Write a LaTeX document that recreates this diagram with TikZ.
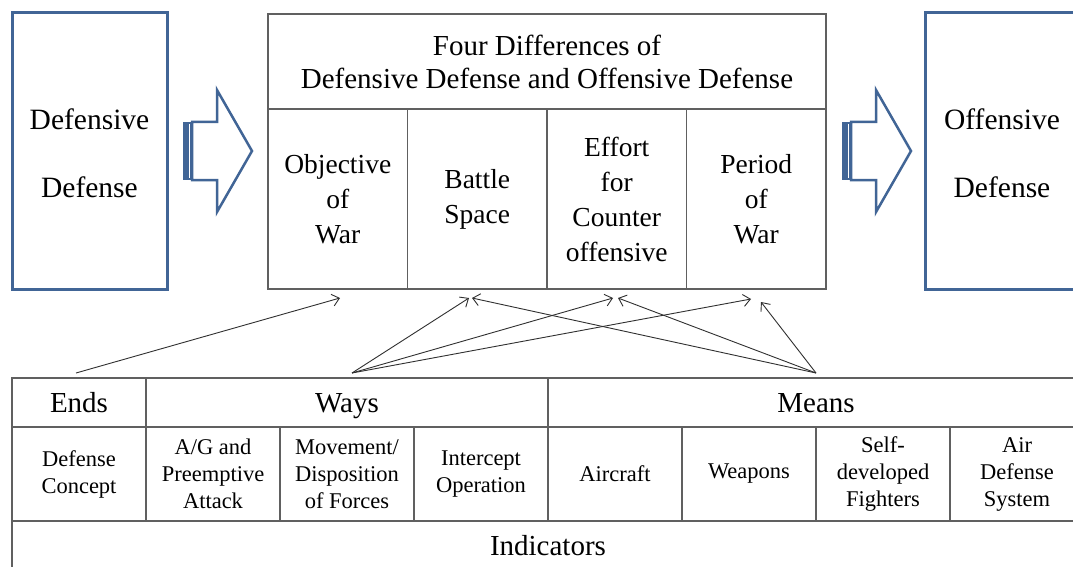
\documentclass[tikz,border=0pt]{standalone}
\usepackage{fontspec}
\setmainfont{Liberation Serif}
\usetikzlibrary{arrows.meta}
\definecolor{boxblue}{HTML}{416596}
\definecolor{linegray}{HTML}{606060}
\definecolor{arrowgray}{HTML}{303030}

\tikzset{
	sidebox/.style={draw=boxblue, line width=3pt, inner sep=0pt},
	sidetext/.style={align=center, font=\fontsize{29.5}{68}\selectfont},
	cell/.style={draw=linegray, line width=1.3pt, inner sep=0pt, align=center},
	headtext/.style={font=\fontsize{29}{33}\selectfont},
	bigtext/.style={font=\fontsize{27.5}{35}\selectfont},
	rowtext/.style={font=\fontsize{29}{33}\selectfont, text height=22pt, text depth=3pt},
	smalltext/.style={font=\fontsize{22.5}{27}\selectfont},
	link/.style={draw=arrowgray, line width=0.9pt, -{Straight Barb[length=7pt,width=12pt,line width=0.9pt]}},
	blockarrow/.style={draw=boxblue, line width=2.5pt, fill=white, line join=miter}
}

\begin{document}
\begin{tikzpicture}[x=1pt,y=-1pt]
	\useasboundingbox[fill=white] (0,0) rectangle (1073,567);
	%
	%side boxes
	\draw[sidebox] (12,13) rectangle (167,289);
	\node[sidetext] (defdef) at (89.5,153) {Defensive\\Defense};
	\draw[sidebox] (925,13) rectangle (1090,289);
	\node[sidetext] (offdef) at (1002,153) {Offensive\\Defense};
	%
	%block arrows
	\foreach \dx in {0,659}{
		\begin{scope}[shift={(\dx,0)}]
			\fill[boxblue] (183,122) rectangle (192,180);
			\draw[white, line width=0.8pt] (189.5,124) -- (189.5,178);
			\draw[blockarrow] (192,122) -- (217,122) -- (217,90) -- (252,151)
				-- (217,212) -- (217,180) -- (192,180) -- cycle;
		\end{scope}
	}
	%
	%middle table
	\node[cell, headtext, minimum width=558pt, minimum height=95pt] (four) at (547,61.5)
		{Four Differences of\\Defensive Defense and Offensive Defense};
	\node[cell, bigtext, minimum width=139.5pt, minimum height=180pt] (obj)    at (337.75,199) {Objective\\of\\War};
	\node[cell, bigtext, minimum width=139.5pt, minimum height=180pt] (battle) at (477.25,199) {Battle\\Space};
	\node[cell, bigtext, minimum width=139.5pt, minimum height=180pt] (effort) at (616.75,199) {Effort\\for\\Counter\\offensive};
	\node[cell, bigtext, minimum width=139.5pt, minimum height=180pt] (period) at (756.25,199) {Period\\of\\War};
	%
	%bottom table, first row
	\node[cell, rowtext, minimum width=134pt, minimum height=49pt] (ends)  at (79,402.5)  {Ends};
	\node[cell, rowtext, minimum width=402pt, minimum height=49pt] (ways)  at (347,402.5) {Ways};
	\node[cell, rowtext, minimum width=536pt, minimum height=49pt] (means) at (816,402.5) {Means};
	%
	%bottom table, second row
	\node[cell, smalltext, minimum width=134pt, minimum height=94pt] (concept)   at (79,474)  {Defense\\Concept};
	\node[cell, smalltext, minimum width=134pt, minimum height=94pt] (agattack)  at (213,474) {A/G and\\Preemptive\\Attack};
	\node[cell, smalltext, minimum width=134pt, minimum height=94pt] (movement)  at (347,474) {Movement/\\Disposition\\of Forces};
	\node[cell, smalltext, minimum width=134pt, minimum height=94pt] (intercept) at (481,474) {Intercept\\Operation};
	\node[cell, smalltext, minimum width=134pt, minimum height=94pt] (aircraft)  at (615,474) {Aircraft};
	\node[cell, smalltext, minimum width=134pt, minimum height=94pt] (weapons)   at (749,474) {Weapons};
	\node[cell, smalltext, minimum width=134pt, minimum height=94pt] (selfdev)   at (883,474) {Self-\\developed\\Fighters};
	\node[cell, smalltext, minimum width=134pt, minimum height=94pt] (airdef)    at (1017,474) {Air\\Defense\\System};
	%
	%bottom table, last row
	\node[cell, rowtext, minimum width=1072pt, minimum height=50pt] (indic) at (548,546) {Indicators};
	%
	%arrow ends
	\coordinate (endsOut)  at (76,373);
	\coordinate (waysOut)  at (352,373);
	\coordinate (meansOut) at (816,373);
	\coordinate (objIn)    at (340,298);
	\coordinate (batIn)    at (469,298);
	\coordinate (batInR)   at (472,298);
	\coordinate (effIn)    at (613,298);
	\coordinate (effInR)   at (618,298);
	\coordinate (perIn)    at (751,299);
	\coordinate (perInR)   at (761,302);
	%
	\draw[link] (endsOut) -- (objIn);		%Ends--Objective
	\draw[link] (waysOut) -- (batIn);		%Ways--Battle
	\draw[link] (waysOut) -- (effIn);		%Ways--Effort
	\draw[link] (waysOut) -- (perIn);		%Ways--Period
	\draw[link] (meansOut) -- (batInR);		%Means--Battle
	\draw[link] (meansOut) -- (effInR);		%Means--Effort
	\draw[link] (meansOut) -- (perInR);		%Means--Period
\end{tikzpicture}
\end{document}
